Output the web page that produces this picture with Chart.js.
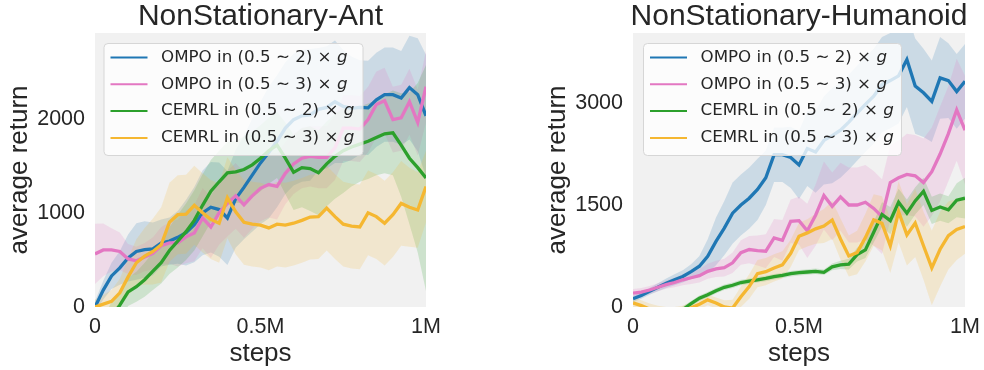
<!DOCTYPE html>
<html>
<head>
<meta charset="utf-8">
<script src="https://cdn.jsdelivr.net/npm/chart.js@4.4.1/dist/chart.umd.min.js"></script>
<style>
  html, body { margin: 0; padding: 0; background: #fff; }
  #wrap { position: relative; width: 984px; height: 370px; }
  .panel { position: absolute; top: 0; width: 492px; height: 370px; }
</style>
</head>
<body>
<div id="wrap">
  <div class="panel" style="left:0"><canvas id="ant" width="492" height="370"></canvas></div>
  <div class="panel" style="left:492px"><canvas id="hum" width="492" height="370"></canvas></div>
</div>
<script>
// steps in thousands
const steps = [0,25,50,75,100,125,150,175,200,225,250,275,300,325,350,375,400,425,450,475,500,525,550,575,600,625,650,675,700,725,750,775,800,825,850,875,900,925,950,975,1000];
const xTicks = [0, 500, 1000];
const xTickLabels = ["0", "0.5M", "1M"];

const seriesNames = ["OMPO in (0.5 \u223C 2) \u00D7 ", "OMPO in (0.5 \u223C 3) \u00D7 ", "CEMRL in (0.5 \u223C 2) \u00D7 ", "CEMRL in (0.5 \u223C 3) \u00D7 "];
const seriesColors = ["#1f77b4", "#e377c2", "#2ca02c", "#f5b731"];

// NonStationary-Ant
const antTicks = [0, 1000, 2000];
const antBlue = [0,180,330,415,520,590,610,617,680,700,740,790,875,1000,1060,1035,945,1150,1270,1400,1530,1640,1760,1900,1990,2030,2040,2100,2120,2180,2130,2110,2120,2115,2200,2255,2255,2220,2330,2255,2030];
const antPink = [564,606,606,590,510,490,530,570,650,680,680,745,785,945,850,1000,1100,1180,1085,1180,1260,1300,1280,1420,1520,1580,1600,1590,1590,1690,1900,1900,1890,1990,2150,2190,1990,2010,2180,1960,2340];
const antGreen = [-350,-250,-100,20,160,215,290,380,470,600,700,800,920,1080,1230,1330,1425,1435,1460,1510,1580,1660,1720,1580,1430,1480,1470,1425,1520,1600,1660,1700,1730,1760,1800,1840,1850,1720,1580,1480,1370];
const antYellow = [0,30,60,150,320,470,540,590,660,900,980,985,1080,1000,930,890,1160,1010,900,880,870,840,880,870,890,920,955,960,1050,960,880,860,850,1000,960,890,980,1100,1060,1030,1280];
const antBlueSd = [60,100,140,180,250,300,300,280,250,250,280,350,400,450,480,500,500,520,550,600,650,700,700,700,700,700,700,650,650,650,600,550,500,500,500,500,500,500,550,600,650];
const antPinkSd = [320,280,230,200,160,150,150,170,200,220,250,280,300,320,330,340,350,350,350,350,350,350,350,330,320,320,320,330,330,340,350,350,350,350,350,350,350,350,350,350,380];
const antGreenSd = [150,150,150,150,150,160,180,200,220,250,280,300,320,330,330,330,330,330,350,350,350,350,350,380,400,420,450,450,450,450,450,420,400,400,400,420,450,550,700,900,1200];
const antYellowSd = [80,100,120,150,200,250,300,350,400,420,420,420,420,420,420,420,430,450,450,450,450,450,450,450,450,450,450,450,450,450,450,450,450,450,450,450,450,450,420,400,380];

// NonStationary-Humanoid
const humTicks = [0, 1500, 3000];
const humBlue = [120,170,230,290,350,400,450,520,600,745,965,1160,1380,1500,1600,1730,1900,2240,2240,2200,2090,2330,2280,2450,2520,2600,2720,2850,2980,3100,3270,3330,3400,3640,3250,3150,3025,3370,3330,3170,3320];
const humPink = [205,220,250,290,330,360,400,430,460,525,560,580,650,800,845,830,820,1015,980,1260,1270,1120,1350,1640,1480,1620,1500,1500,1540,1450,1330,1830,1900,1950,1930,1830,1990,2250,2550,2900,2600];
const humGreen = [-600,-500,-400,-300,-220,-150,-40,50,130,180,240,290,320,360,380,400,420,445,465,490,505,515,525,510,590,620,630,770,840,1100,1360,1270,1540,1380,1560,1700,1420,1470,1430,1570,1600];
const humYellow = [60,20,-30,-60,-80,-80,-60,-10,40,105,60,0,-15,150,300,490,520,575,620,790,1040,1090,1150,1190,1280,1000,750,800,1020,1280,1230,900,1400,1060,1235,900,575,850,1050,1140,1185];
const humBlueSd = [50,50,50,60,70,80,90,110,150,250,350,400,450,450,450,450,400,400,400,450,500,550,600,650,700,700,700,700,700,700,700,700,700,700,700,650,600,600,550,550,550];
const humPinkSd = [60,60,60,60,60,70,80,90,100,110,120,130,150,180,200,220,250,280,300,320,350,400,450,500,500,500,550,550,550,550,550,550,550,600,600,650,650,700,700,750,800];
const humGreenSd = [50,50,50,50,50,50,50,40,40,40,40,40,40,40,40,40,40,40,40,40,40,40,40,40,50,60,80,100,120,150,180,200,200,200,200,200,200,200,200,250,300];
const humYellowSd = [80,80,80,80,80,80,80,80,80,80,80,100,120,150,180,200,200,200,200,200,200,200,220,250,280,300,300,320,350,380,400,400,450,450,500,500,550,550,500,450,400];

const TEXT = "#262626";
const SANS = "'Liberation Sans', Arial, sans-serif";

function rgba(hex, a) {
  const n = parseInt(hex.slice(1), 16);
  return `rgba(${(n >> 16) & 255},${(n >> 8) & 255},${n & 255},${a})`;
}

function buildDatasets(means, spreads) {
  const ds = [];
  // bands first (drawn underneath)
  means.forEach((m, i) => {
    const c = seriesColors[i];
    const lowerIdx = ds.length + 1;
    ds.push({
      data: steps.map((s, k) => ({ x: s, y: m[k] + spreads[i][k] })),
      borderWidth: 0, pointRadius: 0, backgroundColor: rgba(c, 0.18),
      fill: lowerIdx, order: 100 - i
    });
    ds.push({
      data: steps.map((s, k) => ({ x: s, y: m[k] - spreads[i][k] })),
      borderWidth: 0, pointRadius: 0, fill: false, order: 100 - i
    });
  });
  means.forEach((m, i) => {
    ds.push({
      data: steps.map((s, k) => ({ x: s, y: m[k] })),
      borderColor: seriesColors[i], borderWidth: 3.3, pointRadius: 0,
      fill: false, tension: 0, order: 3 - i
    });
  });
  return ds;
}

const panelDeco = {
  id: "panelDeco",
  beforeDraw(chart, args, o) {
    const a = chart.chartArea, ctx = chart.ctx;
    ctx.save();
    ctx.fillStyle = "#f1f1f1";
    ctx.fillRect(a.left, a.top, a.right - a.left, a.bottom - a.top);
    ctx.restore();
  },
  afterDraw(chart, args, o) {
    const a = chart.chartArea, ctx = chart.ctx;
    ctx.save();
    // title
    ctx.fillStyle = TEXT;
    ctx.font = "30px " + SANS;
    ctx.textAlign = "center";
    ctx.textBaseline = "middle";
    ctx.fillText(o.title, (a.left + a.right) / 2, 17);

    // legend inside the plot
    const x = a.left + o.dx, y = a.top + 10, w = o.w, h = 112;
    ctx.beginPath();
    ctx.roundRect(x + 0.5, y + 0.5, w, h, 4);
    ctx.fillStyle = "rgba(255,255,255,0.8)";
    ctx.fill();
    ctx.strokeStyle = "#d6d6d6";
    ctx.lineWidth = 1;
    ctx.stroke();
    ctx.textAlign = "left";
    seriesNames.forEach((name, i) => {
      const ry = y + 14.5 + i * 26.8;
      ctx.beginPath();
      ctx.moveTo(x + 7, ry);
      ctx.lineTo(x + 44, ry);
      ctx.strokeStyle = seriesColors[i];
      ctx.lineWidth = 2;
      ctx.stroke();
      ctx.fillStyle = TEXT;
      ctx.font = "16.7px 'DejaVu Sans'";
      ctx.fillText(name, x + 57.5, ry);
      const tw = ctx.measureText(name).width;
      ctx.font = "italic 16.7px 'DejaVu Sans'";
      ctx.fillText("g", x + 57.5 + tw, ry);
    });
    ctx.restore();
  }
};

function makeChart(id, means, spreads, yMax, yTicks, o) {
  return new Chart(document.getElementById(id), {
    type: "line",
    data: { datasets: buildDatasets(means, spreads) },
    plugins: [panelDeco],
    options: {
      responsive: false,
      animation: false,
      devicePixelRatio: 1,
      layout: { padding: { left: 0, top: 33, right: o.padRight, bottom: 0 } },
      plugins: {
        legend: { display: false },
        tooltip: { enabled: false },
        panelDeco: { title: o.title, dx: o.dx, w: o.w }
      },
      scales: {
        x: {
          type: "linear", min: 0, max: 1000,
          grid: { display: false, drawTicks: false },
          border: { display: false },
          afterBuildTicks: (s) => { s.ticks = xTicks.map((v) => ({ value: v })); },
          afterFit: (s) => { s.height = 63; s.paddingLeft = 0; s.paddingRight = 0; },
          ticks: {
            callback: (v) => xTickLabels[xTicks.indexOf(v)],
            color: TEXT, font: { family: SANS, size: 21.5 }, padding: 7,
            maxRotation: 0, autoSkip: false
          },
          title: {
            display: true, text: "steps", color: TEXT,
            font: { family: SANS, size: 26, lineHeight: 1.2 }, padding: { top: 0, bottom: 1 }
          }
        },
        y: {
          min: 0, max: yMax,
          grid: { display: false, drawTicks: false },
          border: { display: false },
          afterBuildTicks: (s) => { s.ticks = yTicks.map((v) => ({ value: v })); },
          afterFit: (s) => { s.width = o.yWidth; s.paddingTop = 0; s.paddingBottom = 0; },
          ticks: {
            callback: (v) => String(v),
            color: TEXT, font: { family: SANS, size: 21.5 }, padding: 10
          },
          title: {
            display: true, text: "average return", color: TEXT,
            font: { family: SANS, size: 26, lineHeight: 1.2 }, padding: { top: o.yTitlePad, bottom: 0 }
          }
        }
      }
    }
  });
}

makeChart("ant", [antBlue, antPink, antGreen, antYellow], [antBlueSd, antPinkSd, antGreenSd, antYellowSd], 2910, antTicks,
  { title: "NonStationary-Ant", padRight: 66, yWidth: 95, yTitlePad: 4, dx: 8.5, w: 259 });
makeChart("hum", [humBlue, humPink, humGreen, humYellow], [humBlueSd, humPinkSd, humGreenSd, humYellowSd], 4030, humTicks,
  { title: "NonStationary-Humanoid", padRight: 19, yWidth: 141, yTitlePad: 50, dx: 10, w: 258 });
</script>
</body>
</html>
